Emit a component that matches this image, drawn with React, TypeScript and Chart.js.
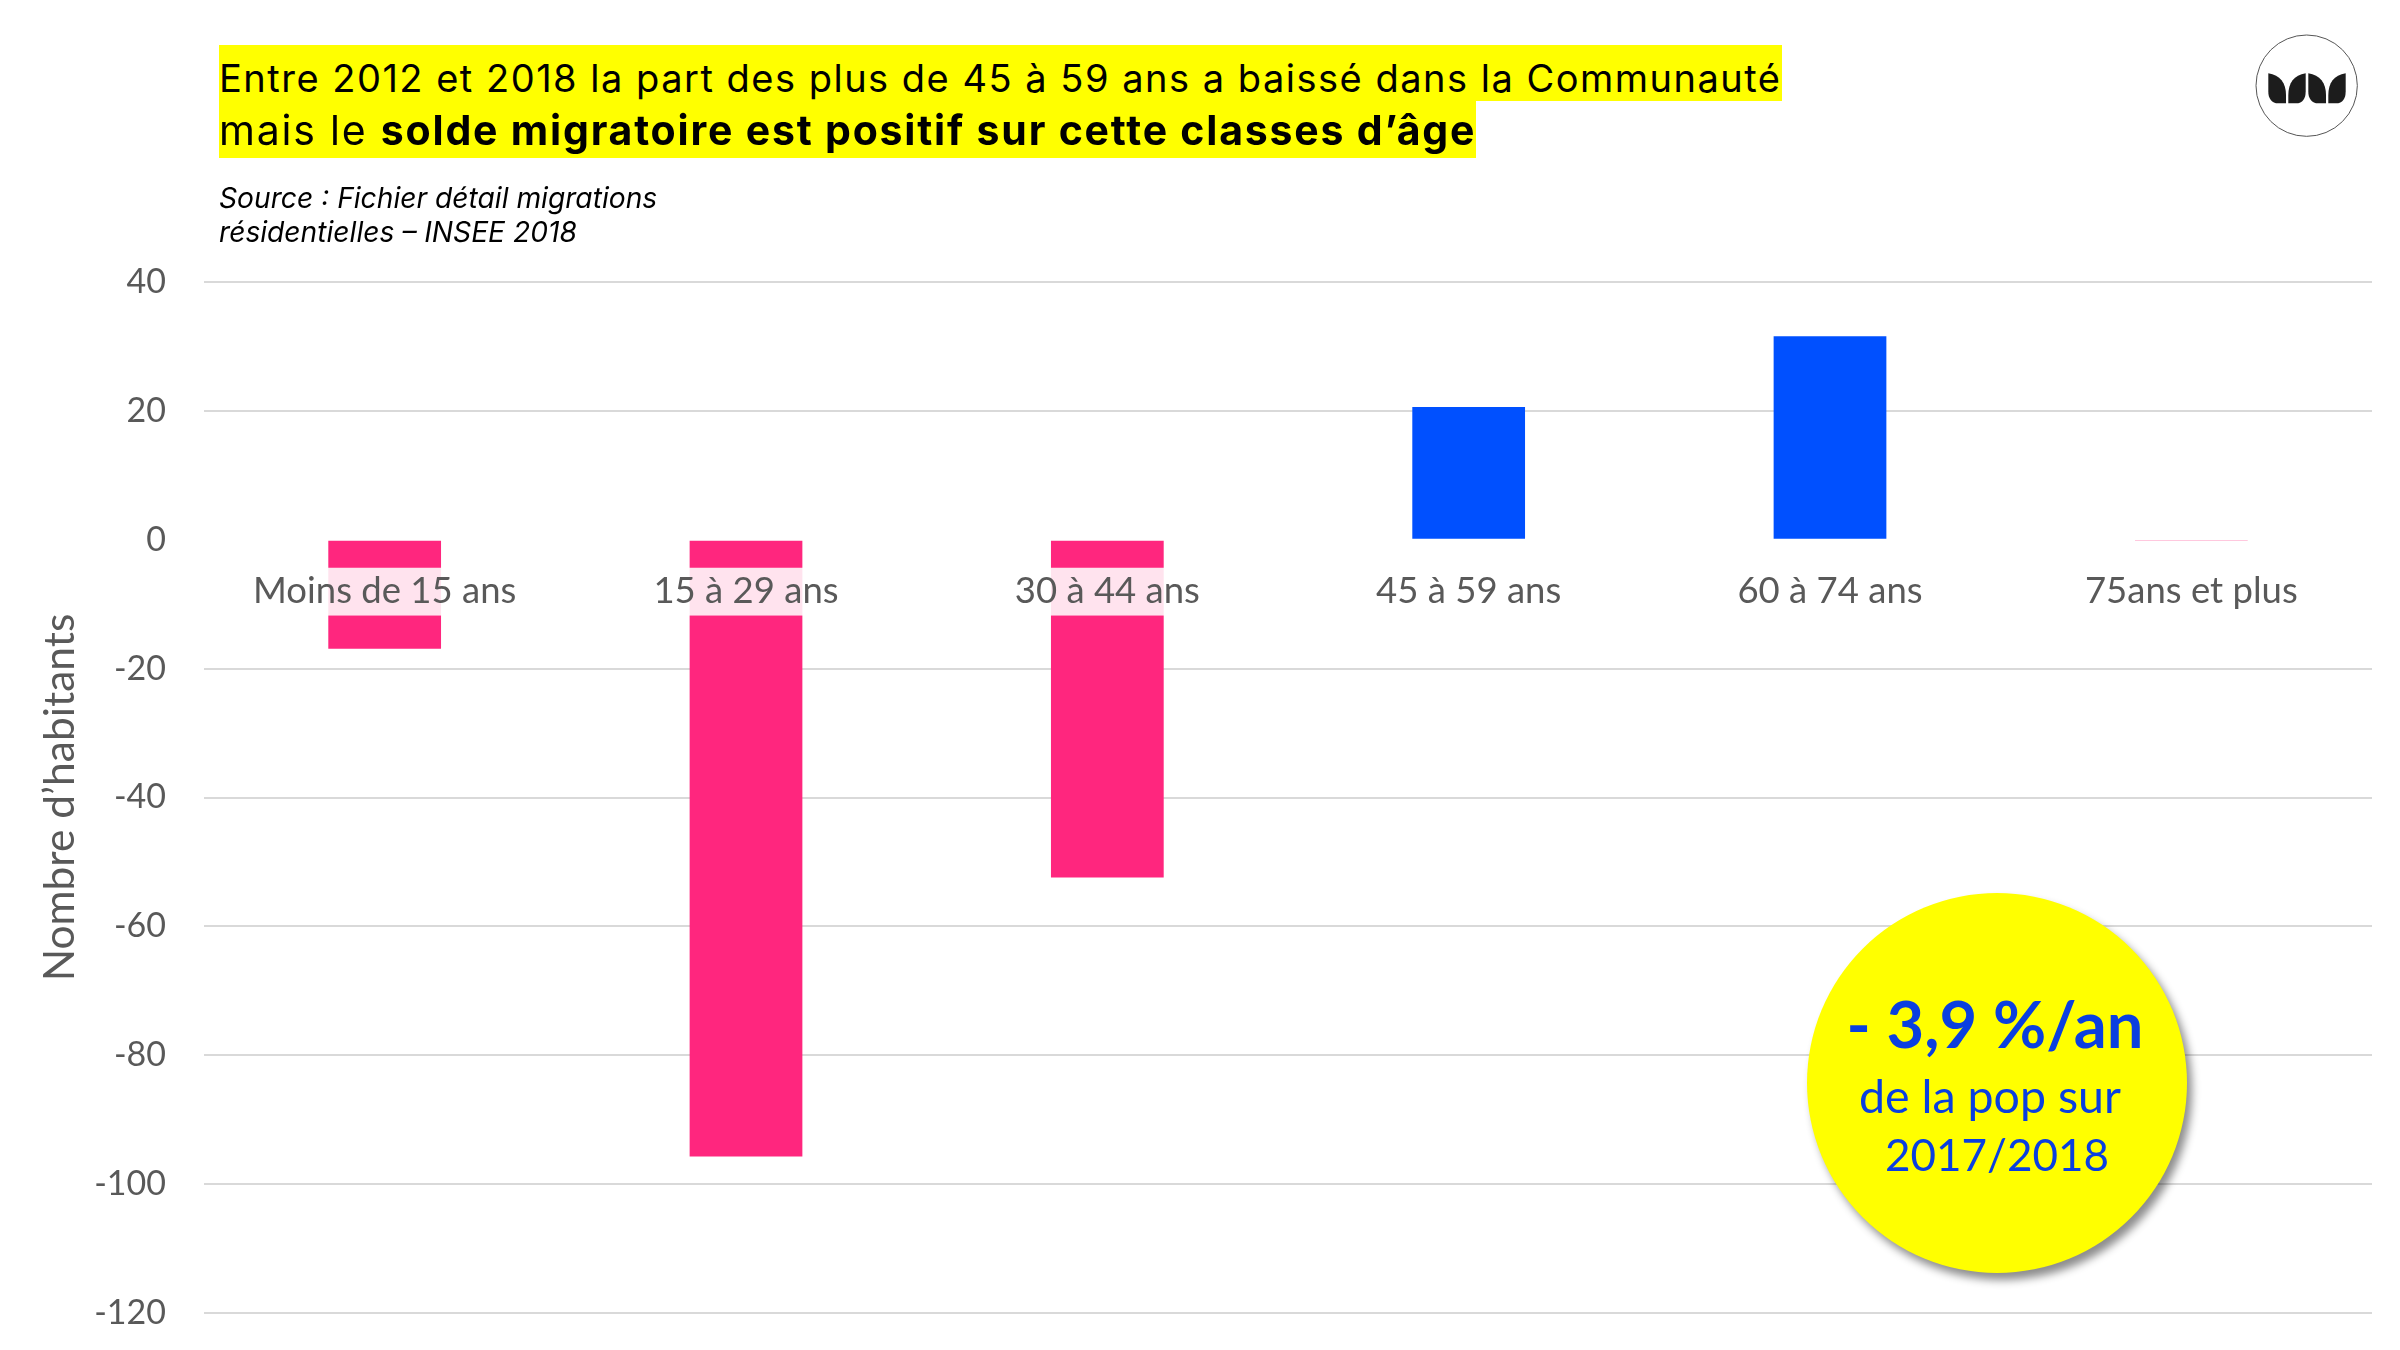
import React, { useEffect, useRef } from 'react';
import Chart from 'chart.js/auto';

const categories = ['Moins de 15 ans', '15 à 29 ans', '30 à 44 ans', '45 à 59 ans', '60 à 74 ans', '75ans et plus'];
const solde = [-16.9, -95.7, -52.4, 20.6, 31.6, -0.1];
const yTicks = [40, 20, 0, -20, -40, -60, -80, -100, -120];

const PINK = '#ff267e';
const BLUE = '#0050ff';
const GREY = '#595959';

const leaves = [0, 120];

const App: React.FC = () => {
  const chartRef = useRef<HTMLCanvasElement | null>(null);

  useEffect(() => {
    if (!chartRef.current) return;
    const ctx = chartRef.current.getContext('2d');
    if (!ctx) return;

    const myChart = new Chart(ctx, {
      type: 'bar',
      data: {
        labels: categories,
        datasets: [
          {
            data: solde,
            backgroundColor: solde.map((v) => (v < 0 ? PINK : BLUE)),
            barPercentage: 0.312,
            categoryPercentage: 1,
          },
        ],
      },
      options: {
        responsive: false,
        animation: false,
        devicePixelRatio: 1,
        layout: { padding: { left: 0, top: 282, right: 28, bottom: 37 } },
        plugins: { legend: { display: false }, tooltip: { enabled: false } },
        scales: {
          x: {
            position: { y: 0 },
            border: { display: false },
            grid: { display: false, drawTicks: false },
            ticks: {
              z: 1,
              color: GREY,
              font: { family: 'Lato', size: 36.5 },
              padding: 30,
              maxRotation: 0,
              showLabelBackdrop: true,
              backdropColor: 'rgba(255,255,255,0.87)',
              backdropPadding: { x: 4, y: 2 },
            },
          },
          y: {
            min: -120,
            max: 40,
            afterBuildTicks: (scale) => {
              scale.ticks = yTicks.map((value) => ({ value }));
            },
            afterFit: (scale) => {
              scale.width = 204;
              // tick padding would otherwise be reserved under the plot too
              scale.paddingBottom = 0;
            },
            border: { display: false },
            grid: {
              color: (c) => (c.tick.value === 0 ? 'rgba(0,0,0,0)' : '#d9d9d9'),
              lineWidth: 2,
              drawTicks: false,
            },
            ticks: {
              color: GREY,
              font: { family: 'Lato', size: 34 },
              padding: 38,
            },
            title: {
              display: true,
              text: 'Nombre d’habitants',
              color: GREY,
              font: { family: 'Lato', size: 42.5 },
              padding: { top: 35, bottom: 0 },
            },
          },
        },
      },
    });

    return () => {
      myChart.destroy();
    };
  }, []);

  return (
    <div style={{ position: 'fixed', left: 0, top: 0, width: 2400, height: 1350, background: '#fff', overflow: 'hidden' }}>
      <canvas ref={chartRef} width={2400} height={1350} style={{ display: 'block', position: 'absolute', left: 0, top: 0 }}></canvas>

      <div style={{ position: 'absolute', left: 219, top: 45, width: 1563, height: 56, lineHeight: '67px', background: '#ffff00', color: '#000', fontFamily: 'Inter', fontSize: 38, letterSpacing: 1.5, whiteSpace: 'nowrap' }}>
        Entre 2012 et 2018 la part des plus de 45 à 59 ans a baissé dans la Communauté
      </div>
      <div style={{ position: 'absolute', left: 219, top: 101, width: 1257, height: 57, lineHeight: '59px', background: '#ffff00', color: '#000', fontFamily: 'Inter', fontSize: 41, letterSpacing: 1.8, whiteSpace: 'nowrap' }}>
        mais le <b>solde migratoire est positif sur cette classes d’âge</b>
      </div>
      <div style={{ position: 'absolute', left: 219, top: 181, lineHeight: '34px', color: '#000', fontFamily: 'Inter', fontStyle: 'italic', fontSize: 28.2, whiteSpace: 'nowrap' }}>
        Source : Fichier détail migrations
        <br />
        résidentielles – INSEE 2018
      </div>

      <svg style={{ position: 'absolute', left: 2200, top: 0 }} width={200} height={160} viewBox="0 0 600 480">
        <circle cx={320} cy={257} r={152} fill="#fff" stroke="#555" strokeWidth={3} />
        {leaves.map((dx) => (
          <g key={dx} transform={`translate(${dx} 0)`} fill="#1c1c1c">
            <path d="M205 220 C240 225 258 250 258 285 L258 310 L235 310 C215 310 205 295 205 275 Z" />
            <path d="M317 220 C282 225 265 250 265 285 L265 310 L288 310 C308 310 317 295 317 275 Z" />
          </g>
        ))}
      </svg>

      <div style={{ position: 'absolute', left: 1807, top: 893, width: 380, height: 380, borderRadius: '50%', background: '#ffff00', boxShadow: '5px 7px 9px rgba(0,0,0,0.45)' }} />
      <div style={{ position: 'absolute', left: 1795, width: 400, top: 988, lineHeight: '70px', textAlign: 'center', color: '#0a3fe0', fontFamily: 'Lato', fontWeight: 700, fontSize: 65, whiteSpace: 'nowrap' }}>
        - 3,9 %/an
      </div>
      <div style={{ position: 'absolute', left: 1790, width: 400, top: 1070, lineHeight: '50px', textAlign: 'center', color: '#0a3fe0', fontFamily: 'Lato', fontSize: 46.5, whiteSpace: 'nowrap' }}>
        de la pop sur
      </div>
      <div style={{ position: 'absolute', left: 1797, width: 400, top: 1129, lineHeight: '50px', textAlign: 'center', color: '#0a3fe0', fontFamily: 'Lato', fontSize: 44, whiteSpace: 'nowrap' }}>
        2017/2018
      </div>
    </div>
  );
};

export default App;
